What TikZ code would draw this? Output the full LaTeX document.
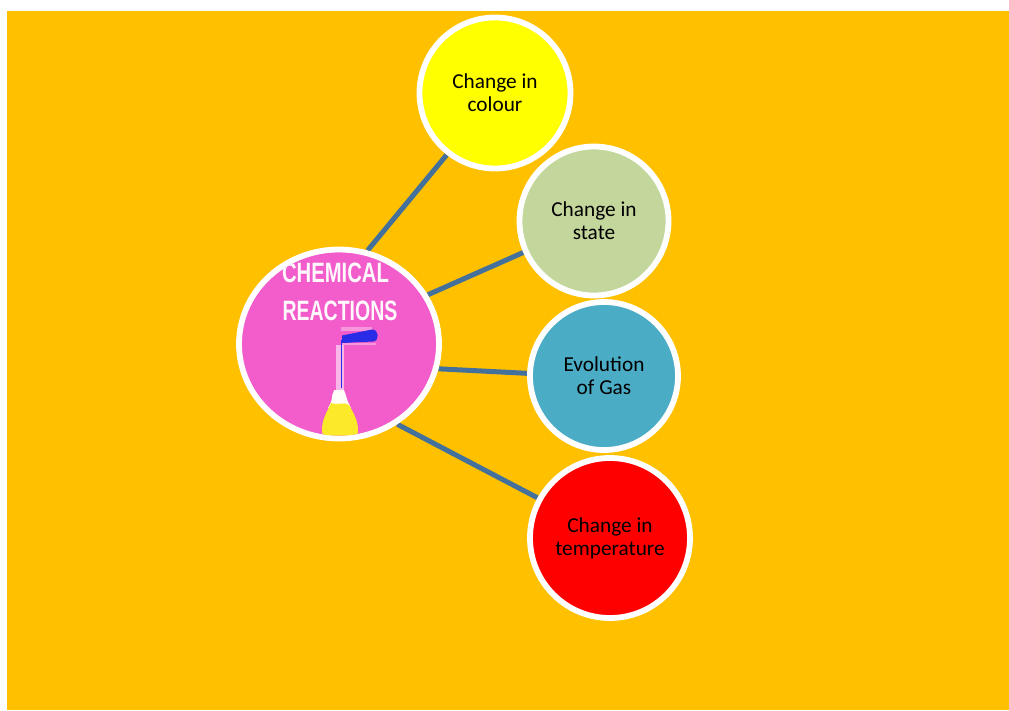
\documentclass[tikz,border=0pt]{standalone}
\usepackage{fontspec}
\setmainfont{Carlito}
\newfontfamily\labelfont{Liberation Sans}
\usetikzlibrary{shapes.geometric,backgrounds}
\definecolor{bgamber}{HTML}{FFC000}
\definecolor{linkblue}{HTML}{44709C}
\definecolor{purey}{HTML}{FFFF00}
\definecolor{purer}{HTML}{FF0000}
\definecolor{statecol}{HTML}{C3D69B}
\definecolor{gascol}{HTML}{4BACC6}
\definecolor{maincol}{HTML}{F25CCB}
\definecolor{flaskyellow}{HTML}{FBE92A}
\definecolor{flaskblue}{HTML}{2A2BE6}
\tikzset{
  x=1pt,y=-1pt,
  topic/.style={circle,draw=white,line width=5.8pt,inner sep=0pt,align=center,font=\fontsize{21.3}{23.2}\selectfont,text=black},
  link/.style={draw=linkblue,line width=5pt},
  imgtext/.style={inner sep=0pt,text=white!95!maincol,font=\labelfont\bfseries\fontsize{25}{25}\selectfont}
}
\begin{document}
\begin{tikzpicture}
\useasboundingbox (0,0) rectangle (1009,710);
\coordinate (maincentre) at (339,344);
\node[topic,minimum size=151pt,fill=purey] (colour) at (495,93) {Change in\\colour};
\node[topic,minimum size=149pt,fill=statecol] (state) at (594,221) {Change in\\state};
\node[topic,minimum size=148pt,fill=gascol] (gas) at (604,376) {Evolution\\of Gas};
\node[topic,minimum size=160pt,fill=purer] (temp) at (610,538) {Change in\\temperature};
\node[ellipse,minimum width=200pt,minimum height=189pt,inner sep=0pt,fill=maincol,draw=white,line width=5.8pt] (main) at (maincentre) {};
\begin{scope}[on background layer]
\fill[bgamber] (7,11) rectangle (1009,710);
\draw[link] (main.73) -- (colour.232);
\draw[link] (main.29) -- (state.204);
\draw[link] (main.346) -- (gas.178);
\draw[link] (main.306) -- (temp.151);
\end{scope}
\begin{scope}
\clip (maincentre) ellipse [x radius=97.2pt,y radius=91.7pt];
\node[imgtext] (t1) at (335.5,272.5) {\scalebox{0.81}[1.12]{CHEMICAL}};
\node[imgtext] (t2) at (340,310.5) {\scalebox{0.78}[1.12]{REACTIONS}};
\fill[white!55!maincol] (336,345) rectangle (344,392);
\fill[flaskblue] (340.5,340) rectangle (342,388);
\fill[white!97!flaskyellow] (339,397) circle [radius=7];
\fill[white!97!flaskyellow] (331,402) -- (334,390) -- (344,390) -- (348,402) -- (351,408) -- (328,408) -- cycle;
\fill[flaskyellow] (331,403) .. controls (335,406) and (345,401) .. (349,405) .. controls (353,412) and (358,420) .. (358,430) .. controls (358,438) and (352,442) .. (340,442) .. controls (328,442) and (322,438) .. (322,430) .. controls (322,419) and (327,412) .. (331,403) -- cycle;
\fill[white!35!maincol] (341,327) rectangle (372,331);
\fill[white!35!maincol] (342,343) rectangle (376,345);
\fill[flaskblue] (342,335.5) -- (372,329.5) .. controls (379,329) and (380,341) .. (373,341.5) -- (342,343) -- cycle;
\end{scope}
\end{tikzpicture}
\end{document}
